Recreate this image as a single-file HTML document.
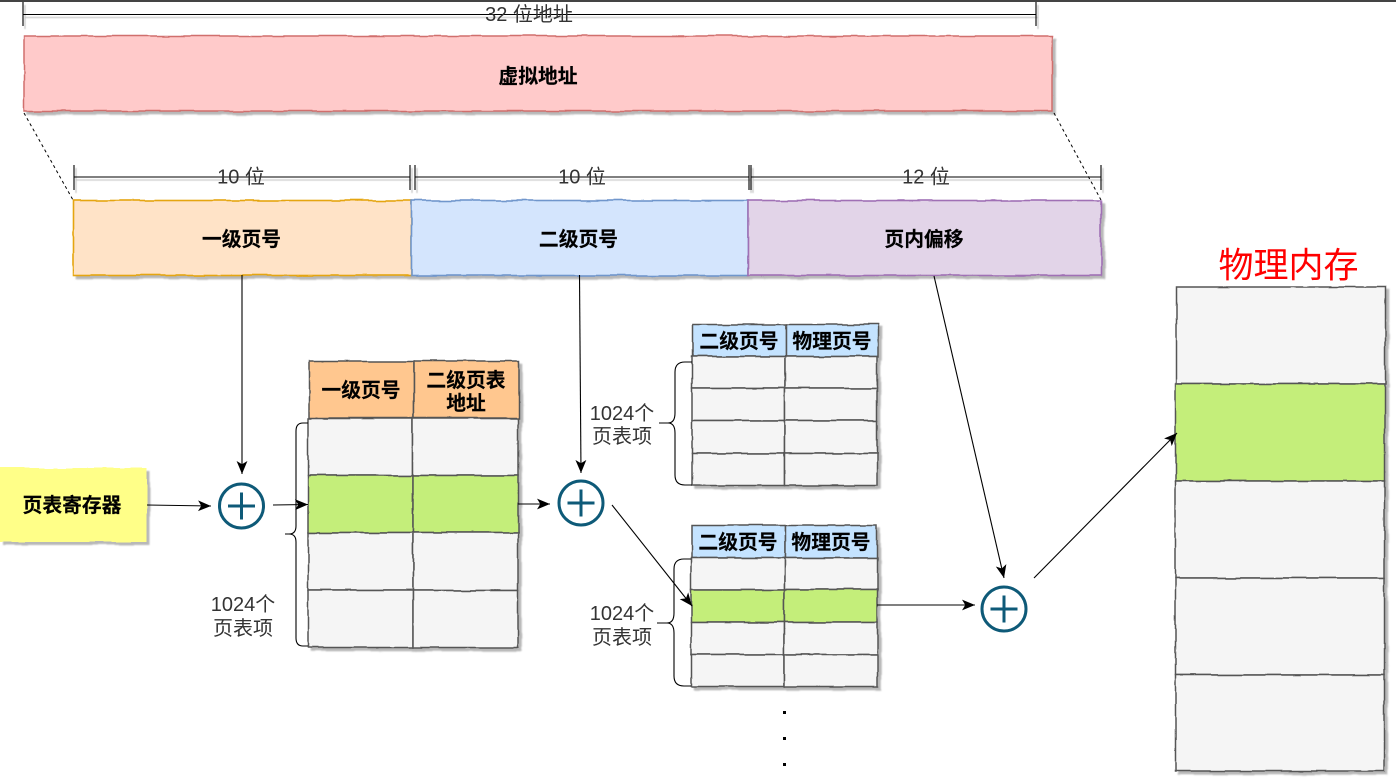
<!DOCTYPE html>
<html>
<head>
<meta charset="utf-8">
<style>
html,body{margin:0;padding:0;background:#fff;width:1396px;height:778px;overflow:hidden}
svg{display:block}
text{font-family:"Liberation Sans","Noto Sans CJK SC",sans-serif;text-anchor:middle;dominant-baseline:central;transform:translateY(1px)}
.b{font-weight:bold;font-size:19.8px;fill:#000;stroke:#000;stroke-width:0.15px}
.n{font-size:20px;fill:#333}
.r{stroke:#555;stroke-width:1.5}
.g{fill:#f5f5f5}
.v{fill:#c4ee7a}
.l{stroke:#000;stroke-width:1.1;fill:none}
.c{fill:none;stroke:#0e5a78;stroke-width:3}
</style>
</head>
<body>
<svg width="1396" height="778" viewBox="0 0 1396 778" xmlns="http://www.w3.org/2000/svg">
<defs>
<filter id="w" filterUnits="userSpaceOnUse" x="0" y="0" width="1396" height="778" color-interpolation-filters="sRGB">
<feTurbulence type="fractalNoise" baseFrequency="0.035" numOctaves="2" seed="4" result="t"/>
<feDisplacementMap in="SourceGraphic" in2="t" scale="3.5" xChannelSelector="R" yChannelSelector="G" result="d"/>
<feDropShadow in="d" dx="3" dy="3" stdDeviation="0.7" flood-color="#888" flood-opacity="0.6"/>
</filter>
<filter id="s" filterUnits="userSpaceOnUse" x="0" y="0" width="1396" height="778" color-interpolation-filters="sRGB">
<feDropShadow dx="2" dy="3" stdDeviation="0.5" flood-color="#888" flood-opacity="0.55"/>
</filter>
<marker id="a" viewBox="0 0 12 10" refX="12" refY="5" markerWidth="13" markerHeight="11" markerUnits="userSpaceOnUse" orient="auto">
<path d="M0 0L12 5L0 10L3 5Z" fill="#000"/>
</marker>
</defs>
<rect x="0" y="0" width="1396" height="2" fill="#444"/>

<!-- dimensions -->
<g filter="url(#s)" stroke="#000" stroke-width="1.1" fill="none">
<path d="M23 14.5H1036M23 2V26M1036 2V26"/>
<path d="M74 177H410M74 165V190M410 165V190"/>
<path d="M415 177H749M415 165V190M749 165V190"/>
<path d="M751 177H1101M751 165V190M1101 165V190"/>
</g>
<text class="n" x="529" y="14">32 位地址</text>
<text class="n" x="241" y="176.500">10 位</text>
<text class="n" x="582" y="176.500">10 位</text>
<text class="n" x="926" y="176.500">12 位</text>

<!-- virtual address -->
<g filter="url(#w)">
<rect x="24" y="36" width="1028" height="75" fill="#ffcaca" stroke="#d06f6d" stroke-width="1.5"/>
</g>
<text class="b" x="538" y="76">虚拟地址</text>
<path d="M24 113L73 200M1054 113L1101 200" stroke="#000" stroke-width="1" stroke-dasharray="3 3" fill="none"/>

<!-- segments -->
<g filter="url(#w)">
<rect x="74" y="200.500" width="337" height="75" fill="#ffe3c7" stroke="#e5a510" stroke-width="1.6"/>
<rect x="411" y="200.500" width="337" height="75" fill="#d4e5fd" stroke="#7096cc" stroke-width="1.6"/>
<rect x="748" y="200.500" width="353" height="75" fill="#e2d4e8" stroke="#a070b5" stroke-width="1.6"/>
</g>
<text class="b" x="241.500" y="239">一级页号</text>
<text class="b" x="578.500" y="239">二级页号</text>
<text class="b" x="924" y="239">页内偏移</text>

<text x="1288.500" y="265" style="font-size:35px;fill:#ff0000">物理内存</text>

<!-- register -->
<g filter="url(#w)">
<rect x="-4" y="468" width="151" height="74" fill="#ffff88"/>
</g>
<text class="b" x="72" y="505">页表寄存器</text>

<!-- table 1 -->
<g filter="url(#w)" class="r">
<rect x="309" y="361" width="105" height="57" fill="#ffc78f"/>
<rect x="414" y="361" width="105" height="57" fill="#ffc78f"/>
<rect class="g" x="308" y="418.500" width="105" height="57"/>
<rect class="g" x="413" y="418.500" width="105" height="57"/>
<rect class="v" x="308" y="475.500" width="105" height="57"/>
<rect class="v" x="413" y="475.500" width="105" height="57"/>
<rect class="g" x="308" y="532.500" width="105" height="58"/>
<rect class="g" x="413" y="532.500" width="105" height="58"/>
<rect class="g" x="308" y="590.500" width="105" height="57"/>
<rect class="g" x="413" y="590.500" width="105" height="57"/>
</g>
<text class="b" x="361" y="390">一级页号</text>
<text class="b" x="466" y="380">二级页表</text>
<text class="b" x="466" y="403">地址</text>

<!-- table 2 -->
<g filter="url(#w)" class="r">
<rect x="693" y="324.500" width="93" height="32" fill="#c4e3ff"/>
<rect x="786" y="324.500" width="92" height="32" fill="#c4e3ff"/>
<rect class="g" x="692" y="356.500" width="93" height="32"/>
<rect class="g" x="785" y="356.500" width="92" height="32"/>
<rect class="g" x="692" y="388.500" width="93" height="32"/>
<rect class="g" x="785" y="388.500" width="92" height="32"/>
<rect class="g" x="692" y="420.500" width="93" height="33"/>
<rect class="g" x="785" y="420.500" width="92" height="33"/>
<rect class="g" x="692" y="453.500" width="93" height="32"/>
<rect class="g" x="785" y="453.500" width="92" height="32"/>
</g>
<text class="b" x="739" y="341">二级页号</text>
<text class="b" x="832" y="341">物理页号</text>

<!-- table 3 -->
<g filter="url(#w)" class="r">
<rect x="692" y="525.500" width="93" height="32" fill="#c4e3ff"/>
<rect x="785" y="525.500" width="92" height="32" fill="#c4e3ff"/>
<rect class="g" x="691.500" y="557.500" width="93" height="32"/>
<rect class="g" x="784.500" y="557.500" width="93" height="32"/>
<rect class="v" x="691.500" y="589.500" width="93" height="33"/>
<rect class="v" x="784.500" y="589.500" width="93" height="33"/>
<rect class="g" x="691.500" y="622.500" width="93" height="32"/>
<rect class="g" x="784.500" y="622.500" width="93" height="32"/>
<rect class="g" x="691.500" y="654.500" width="93" height="32"/>
<rect class="g" x="784.500" y="654.500" width="93" height="32"/>
</g>
<text class="b" x="738" y="542">二级页号</text>
<text class="b" x="831" y="542">物理页号</text>

<!-- memory -->
<g filter="url(#w)" class="r">
<rect class="g" x="1176.500" y="287" width="209" height="97"/>
<rect class="v" x="1175.500" y="384" width="209" height="97"/>
<rect class="g" x="1175.500" y="481" width="209" height="97"/>
<rect class="g" x="1175.500" y="578" width="209" height="97"/>
<rect class="g" x="1175.500" y="675" width="209" height="96"/>
</g>

<!-- braces -->
<path class="l" d="M308 423H303Q296 423 296 431V526Q296 534 289 534H285M289 534Q296 534 296 542V638Q296 646 303 646H308"/>
<path class="l" d="M692 362H685Q675 362 675 372V413Q675 423 668 423H659M668 423Q675 423 675 433V475Q675 485 685 485H692"/>
<path class="l" d="M691 559H684Q674 559 674 569V613Q674 623 667 623H657M667 623Q674 623 674 633V676Q674 686 684 686H691"/>

<text class="n" x="243" y="604">1024个</text>
<text class="n" x="243" y="628">页表项</text>
<text class="n" x="622" y="413">1024个</text>
<text class="n" x="622" y="436">页表项</text>
<text class="n" x="622" y="613">1024个</text>
<text class="n" x="622" y="637">页表项</text>

<!-- circles -->
<g class="c">
<circle cx="241.500" cy="506" r="22"/><path d="M228 506H255M241.500 492.500V519.500"/>
<circle cx="581" cy="503" r="22"/><path d="M567.500 503H594.500M581 489.500V516.500"/>
<circle cx="1004" cy="609" r="22"/><path d="M990.500 609H1017.500M1004 595.500V622.500"/>
</g>

<!-- arrows -->
<g>
<path class="l" d="M242 275V474" marker-end="url(#a)"/>
<path class="l" d="M147 505L211 506" marker-end="url(#a)"/>
<path class="l" d="M273 505L308 504.500" marker-end="url(#a)"/>
<path class="l" d="M518 504H550" marker-end="url(#a)"/>
<path class="l" d="M579.500 275L581 473" marker-end="url(#a)"/>
<path class="l" d="M612 505L692 606" marker-end="url(#a)"/>
<path class="l" d="M934 276L1004 578" marker-end="url(#a)"/>
<path class="l" d="M877 605H975" marker-end="url(#a)"/>
<path class="l" d="M1034 578L1177 433" marker-end="url(#a)"/>
</g>

<!-- dots -->
<g fill="#000">
<rect x="783" y="711" width="3" height="3"/>
<rect x="783" y="737" width="3" height="3"/>
<rect x="783" y="763" width="3" height="3"/>
</g>
</svg>
</body>
</html>
